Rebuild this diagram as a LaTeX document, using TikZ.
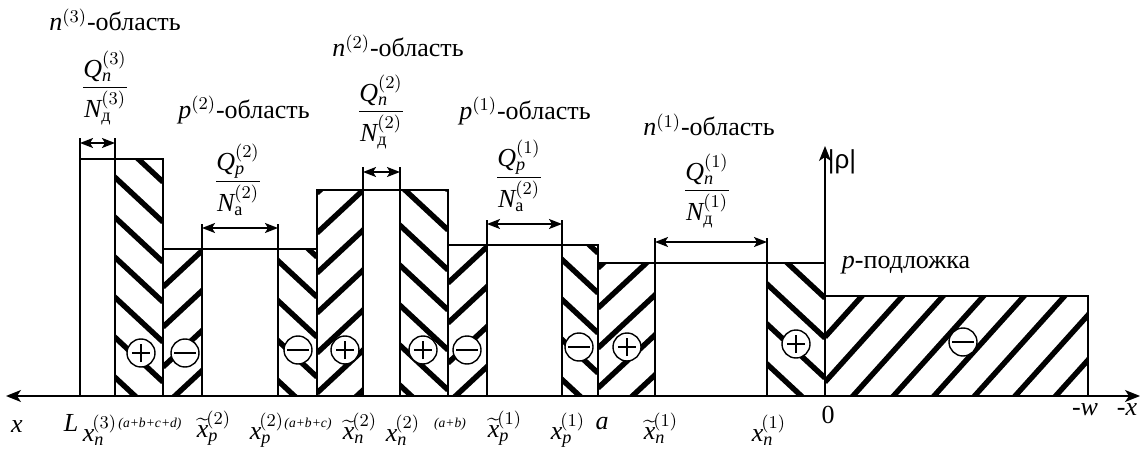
\documentclass[tikz,border=0pt]{standalone}
\usepackage{amsmath}
\usepackage{fontspec}
\setmainfont{Liberation Serif}
\newfontfamily\rhofont{Liberation Sans}
\usetikzlibrary{arrows.meta}
\newcommand\mi[1]{\mathit{#1}}
% hatched region: #1 x1, #2 x2, #3 top, #4 vertex x, #5 vertex base y, #6 direction, #7 slope, #8 spacing
\newcommand\hreg[8]{%
  \begin{scope}
    \clip (#1,#3) rectangle (#2,396);
    \foreach \k in {-10,...,10}
      \draw[hatchline] (#4,{#5+#8*\k}) -- ++({#6*400},{-400*#7});
  \end{scope}}
\begin{document}
\begin{tikzpicture}[x=0.5pt,y=-0.5pt,
  font=\fontsize{13}{15}\selectfont,
  outline/.style={draw=black,line width=0.8pt},
  hatchline/.style={line width=2.7pt},
  dimarrow/.style={line width=0.8pt,{Stealth[length=6.5pt,width=5pt,inset=1.5pt]}-{Stealth[length=6.5pt,width=5pt,inset=1.5pt]}},
  axisline/.style={line width=0.8pt},
  charge/.style={circle,draw,line width=0.7pt,fill=white,minimum size=14pt,inner sep=0pt},
  pluscharge/.style={charge,path picture={
      \draw[line width=0.7pt] ([xshift=-4.6pt]path picture bounding box.center) -- ([xshift=4.6pt]path picture bounding box.center);
      \draw[line width=0.7pt] ([yshift=-4.6pt]path picture bounding box.center) -- ([yshift=4.6pt]path picture bounding box.center);}},
  minuscharge/.style={charge,path picture={
      \draw[line width=0.7pt] ([xshift=-5.3pt]path picture bounding box.center) -- ([xshift=5.3pt]path picture bounding box.center);}},
  small/.style={font=\fontsize{6.8}{8}\selectfont\itshape},
  lab/.style={inner sep=0pt}
]
\useasboundingbox[fill=white] (0,0) rectangle (1141,449);

% ---- hatching ----
\hreg{115}{163}{159}{163}{382}{-1}{0.93}{40}
\hreg{163}{202}{249}{163}{407}{1}{0.93}{40}
\hreg{278}{317}{249}{317}{377}{-1}{0.93}{40}
\hreg{317}{363}{190}{317}{393}{1}{0.93}{40}
\hreg{400}{448}{190}{448}{390}{-1}{0.93}{40}
\hreg{448}{487}{245}{448}{403}{1}{0.93}{40}
\hreg{562}{598}{245}{598}{373}{-1}{0.93}{40}
\hreg{598}{655}{263}{598}{388}{1}{0.93}{40}
\hreg{767}{825}{263}{825}{378}{-1}{0.93}{40}
\hreg{825}{1088}{296}{825}{382}{1}{1.11}{45}

% ---- outlines ----
\draw[outline] (80,159) rectangle (115,396);
\draw[outline] (115,159) rectangle (163,396);
\draw[outline] (163,249) rectangle (202,396);
\draw[outline] (202,249) rectangle (278,396);
\draw[outline] (278,249) rectangle (317,396);
\draw[outline] (317,190) rectangle (363,396);
\draw[outline] (363,190) rectangle (400,396);
\draw[outline] (400,190) rectangle (448,396);
\draw[outline] (448,245) rectangle (487,396);
\draw[outline] (487,245) rectangle (562,396);
\draw[outline] (562,245) rectangle (598,396);
\draw[outline] (598,263) rectangle (655,396);
\draw[outline] (655,263) rectangle (767,396);
\draw[outline] (767,263) rectangle (825,396);
\draw[outline] (825,296) rectangle (1088,396);

% ---- dimension ticks and arrows ----
\draw[outline] (80,159) -- (80,138);   \draw[outline] (115,159) -- (115,138);
\draw[outline] (202,249) -- (202,224); \draw[outline] (278,249) -- (278,224);
\draw[outline] (363,190) -- (363,167); \draw[outline] (400,190) -- (400,167);
\draw[outline] (487,245) -- (487,220); \draw[outline] (562,245) -- (562,220);
\draw[outline] (655,263) -- (655,238); \draw[outline] (767,263) -- (767,238);
\coordinate (n3L) at (80,143);  \coordinate (n3R) at (115,143);
\coordinate (p2L) at (202,228); \coordinate (p2R) at (278,228);
\coordinate (n2L) at (363,172); \coordinate (n2R) at (400,172);
\coordinate (p1L) at (487,224); \coordinate (p1R) at (562,224);
\coordinate (n1L) at (655,242); \coordinate (n1R) at (767,242);
\draw[dimarrow] (n3L) -- (n3R);
\draw[dimarrow] (p2L) -- (p2R);
\draw[dimarrow] (n2L) -- (n2R);
\draw[dimarrow] (p1L) -- (p1R);
\draw[dimarrow] (n1L) -- (n1R);

% ---- axes ----
\coordinate (axL) at (6,396);
\coordinate (axR) at (1140,396);
\coordinate (O) at (825,396);
\coordinate (yT) at (825,146);
\draw[axisline,{Stealth[length=7.5pt,width=6pt,inset=2pt]}-{Stealth[length=7.5pt,width=6pt,inset=2pt]}] (axL) -- (axR);
\draw[axisline,-{Stealth[length=7.5pt,width=6pt,inset=2pt]}] (O) -- (yT);

% ---- charges ----
\node[pluscharge]  (c1)  at (141,353) {};
\node[minuscharge] (c2)  at (185,353) {};
\node[minuscharge] (c3)  at (298,350) {};
\node[pluscharge]  (c4)  at (345,350) {};
\node[pluscharge]  (c5)  at (423,350) {};
\node[minuscharge] (c6)  at (467,350) {};
\node[minuscharge] (c7)  at (579,347) {};
\node[pluscharge]  (c8)  at (627,347) {};
\node[pluscharge]  (c9)  at (796,344) {};
\node[minuscharge] (c10) at (963,342) {};

% ---- region titles ----
\node (tn3) at (115,20)  {$\mi{n}^{(3)}$-область};
\node (tp2) at (244,110) {$\mi{p}^{(2)}$-область};
\node (tn2) at (398,46)  {$\mi{n}^{(2)}$-область};
\node (tp1) at (525,111) {$\mi{p}^{(1)}$-область};
\node (tn1) at (709,125) {$\mi{n}^{(1)}$-область};
\node (sub) at (906,265) {$\mi{p}$-подложка};
\node (rho) at (842,162) {\rhofont |ρ|};

% ---- fractions ----
\node (fn3) at (105,88)  {$\displaystyle\frac{\mi{Q}_{\mi{n}}^{(3)}}{\mi{N}_{\text{д}}^{(3)}}$};
\node (fp2) at (238,180) {$\displaystyle\frac{\mi{Q}_{\mi{p}}^{(2)}}{\mi{N}_{\text{а}}^{(2)}}$};
\node (fn2) at (381,112) {$\displaystyle\frac{\mi{Q}_{\mi{n}}^{(2)}}{\mi{N}_{\text{д}}^{(2)}}$};
\node (fp1) at (519,176) {$\displaystyle\frac{\mi{Q}_{\mi{p}}^{(1)}}{\mi{N}_{\text{а}}^{(2)}}$};
\node (fn1) at (707,191) {$\displaystyle\frac{\mi{Q}_{\mi{n}}^{(1)}}{\mi{N}_{\text{д}}^{(1)}}$};

% ---- axis labels ----
\node[lab] (lx)    at (17,427)  {$\mi{x}$};
\node[lab] (lL)    at (71,423)  {$\mi{L}$};
\node[lab] (lxn3)  at (100,430) {$\mi{x}_{\mi{n}}^{\mkern-2mu(3)}$};
\node[lab,small] (labcd) at (150,424) {(a+b+c+d)};
\node[lab] (ltxp2) at (214,428) {$\widetilde{\mi{x}}_{\mi{p}}^{\mkern-2mu(2)}$};
\node[lab] (lxp2)  at (267,430) {$\mi{x}_{\mi{p}}^{\mkern-2mu(2)}$};
\node[lab,small] (labc) at (308,424) {(a+b+c)};
\node[lab] (ltxn2) at (360,428) {$\widetilde{\mi{x}}_{\mi{n}}^{\mkern-2mu(2)}$};
\node[lab] (lxn2)  at (403,430) {$\mi{x}_{\mi{n}}^{\mkern-2mu(2)}$};
\node[lab,small] (lab) at (450,424) {(a+b)};
\node[lab] (ltxp1) at (505,428) {$\widetilde{\mi{x}}_{\mi{p}}^{\mkern-2mu(1)}$};
\node[lab] (lxp1)  at (568,430) {$\mi{x}_{\mi{p}}^{\mkern-2mu(1)}$};
\node[lab] (la)    at (602,424) {$\mi{a}$};
\node[lab] (ltxn1) at (661,428) {$\widetilde{\mi{x}}_{\mi{n}}^{\mkern-2mu(1)}$};
\node[lab] (lxn1)  at (769,430) {$\mi{x}_{\mi{n}}^{\mkern-2mu(1)}$};
\node[lab] (l0)    at (828,415) {0};
\node[lab] (lw)    at (1085,410) {-$\mi{w}$};
\node[lab] (lmx)   at (1127,410) {-$\mi{x}$};
\end{tikzpicture}
\end{document}
